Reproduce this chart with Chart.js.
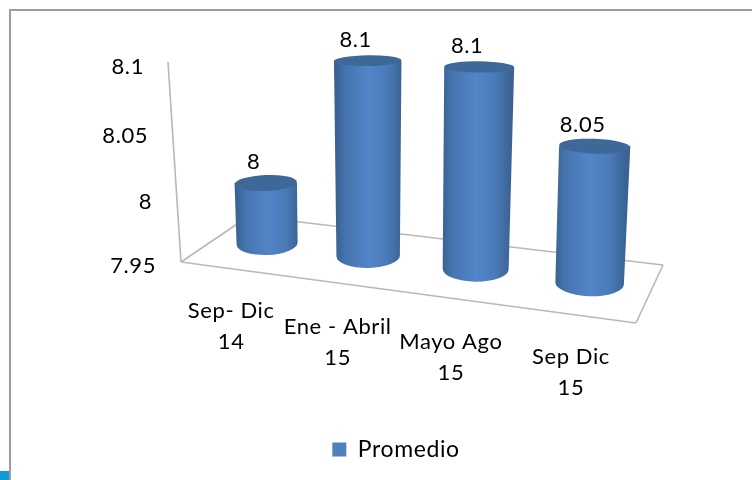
<!DOCTYPE html>
<html>
<head>
<meta charset="utf-8">
<script src="https://cdn.jsdelivr.net/npm/chart.js@4/dist/chart.umd.min.js"></script>
<style>
    html, body { margin: 0; background: #fff; }
    body { width: 752px; height: 480px; overflow: hidden; position: relative; }
    #frame { position: absolute; left: 9px; top: 9px; right: 0; bottom: 0; border-left: 2px solid #9c9c9c; border-top: 2px solid #9c9c9c; }
    #corner { position: absolute; left: 0; top: 471px; width: 9px; height: 9px; background: #0d9ddb; }
    #chart { position: absolute; left: 0; top: 0; }
</style>
</head>
<body>
<div id="frame"></div>
<div id="corner"></div>
<canvas id="chart" width="752" height="480"></canvas>
<script>
var categories = [["Sep- Dic", "14"], ["Ene - Abril", "15"], ["Mayo Ago", "15"], ["Sep Dic", "15"]];
var promedio = [8, 8.1, 8.1, 8.05];
var axisMin = 7.95;
var axisMax = 8.1;
var axisStep = 0.05;

var FONT = '22px Lato';

// floor corners of the 3d box, screen pixels
var floor = {
    frontLeft: [181, 262], frontRight: [636, 323],
    backLeft: [249, 216], backRight: [663, 265]
};

function line(ctx, a, b) {
    ctx.beginPath();
    ctx.moveTo(a[0], a[1]);
    ctx.lineTo(b[0], b[1]);
    ctx.stroke();
}

// chart area fractions (from the scales) -> position on the 3d box
function fractions(chart, px, py) {
    var area = chart.chartArea;
    var u = (px - area.left) / (area.right - area.left);
    var h = (area.bottom - py) / (area.bottom - area.top);
    return {
        u: u - 0.12 * u * (1 - u),
        h: h - 0.06 * h * (1 - h)
    };
}

// where a bar stands and where its top ends up
function cylinderPos(f) {
    var baseX = 219 + 430 * f.u;
    var baseY = 237.5 + 53 * f.u;
    return {
        baseX: baseX,
        baseY: baseY,
        topX: baseX + (-6 + 16 * f.u) * f.h,
        topY: baseY - (185.5 + 28 * f.u) * f.h
    };
}

function text(ctx, str, x, y, align) {
    ctx.textAlign = align;
    ctx.textBaseline = 'middle';
    ctx.fillText(str, x, y);
}

class CylinderController extends Chart.BarController {
    draw() {
        var chart = this.chart;
        var ctx = chart.ctx;
        var bars = this.getMeta().data;

        bars.forEach(function (bar) {
            var f = fractions(chart, bar.x, bar.y);
            var p = cylinderPos(f);
            var baseW = (60 + 10 * f.u) / 2;
            var topW = baseW + 2 * f.h;
            var tilt = -0.05 + 0.1 * f.u;

            var grad = ctx.createLinearGradient(p.baseX - baseW - 2, 0, p.baseX + baseW + 2, 0);
            grad.addColorStop(0, '#38608f');
            grad.addColorStop(0.16, '#4573ad');
            grad.addColorStop(0.5, '#5285c9');
            grad.addColorStop(0.78, '#4b7ab7');
            grad.addColorStop(1, '#3a6394');

            ctx.save();
            ctx.fillStyle = grad;
            ctx.beginPath();
            ctx.moveTo(p.topX - topW, p.topY);
            ctx.lineTo(p.baseX - baseW, p.baseY);
            ctx.ellipse(p.baseX, p.baseY, baseW, baseW * 0.38, tilt, Math.PI, 0, true);
            ctx.lineTo(p.topX + topW, p.topY);
            ctx.closePath();
            ctx.fill();

            ctx.fillStyle = '#3e6897';
            ctx.beginPath();
            ctx.ellipse(p.topX, p.topY, topW, topW * (0.3 - 0.14 * f.h), tilt, 0, Math.PI * 2);
            ctx.fill();
            ctx.restore();
        });
    }
}
CylinderController.id = 'cylinder';
CylinderController.defaults = Chart.BarController.defaults;
Chart.register(CylinderController);

var box3d = {
    id: 'box3d',
    beforeLayout: function (chart) {
        // the reference text runs wide, legend has to measure with it too
        chart.ctx.letterSpacing = '0.6px';
    },
    beforeDatasetsDraw: function (chart) {
        var ctx = chart.ctx;
        var x = chart.scales.x;
        var y = chart.scales.y;

        ctx.save();
        ctx.strokeStyle = '#b8b8b8';
        ctx.lineWidth = 1.6;
        line(ctx, floor.frontLeft, floor.frontRight);
        line(ctx, floor.frontRight, floor.backRight);
        line(ctx, floor.backRight, floor.backLeft);
        line(ctx, floor.backLeft, floor.frontLeft);
        line(ctx, floor.frontLeft, [168, 62]);

        ctx.fillStyle = '#000';
        ctx.font = FONT;
        y.ticks.forEach(function (tick, i) {
            var f = fractions(chart, x.left, y.getPixelForTick(i));
            text(ctx, tick.label, 156 - 12 * f.h, 266 - 199 * f.h, 'right');
        });
        x.ticks.forEach(function (tick, i) {
            var f = fractions(chart, x.getPixelForTick(i), y.bottom);
            var labelY = 303.5 + 60 * f.u + 12 * f.u * (1 - f.u);
            [].concat(tick.label).forEach(function (row, r) {
                text(ctx, row, 180.5 + 453 * f.u, labelY + r * 31, 'center');
            });
        });
        ctx.restore();
    },
    afterDatasetsDraw: function (chart) {
        var ctx = chart.ctx;
        var meta = chart.getDatasetMeta(0);

        ctx.save();
        ctx.fillStyle = '#000';
        ctx.font = FONT;
        meta.data.forEach(function (bar, i) {
            var p = cylinderPos(fractions(chart, bar.x, bar.y));
            text(ctx, String(promedio[i]), p.topX - 12, p.topY - 21, 'center');
        });
        ctx.restore();
    }
};

new Chart(document.getElementById('chart'), {
    type: 'cylinder',
    data: {
        labels: categories,
        datasets: [{
            label: 'Promedio',
            data: promedio,
            backgroundColor: '#4f81bd'
        }]
    },
    options: {
        responsive: false,
        animation: false,
        layout: { padding: { left: 40, right: 0, top: 40, bottom: 9 } },
        scales: {
            x: {
                type: 'category',
                offset: true,
                grid: { display: false },
                border: { display: false },
                ticks: { display: false }
            },
            y: {
                type: 'linear',
                min: axisMin,
                max: axisMax,
                grid: { display: false },
                border: { display: false },
                ticks: {
                    display: false,
                    stepSize: axisStep,
                    callback: function (v) { return String(+v.toFixed(2)); }
                }
            }
        },
        plugins: {
            tooltip: { enabled: false },
            legend: {
                position: 'bottom',
                labels: {
                    boxWidth: 14,
                    boxHeight: 14,
                    padding: 8,
                    color: '#000',
                    font: { family: 'Lato', size: 23 }
                }
            }
        }
    },
    plugins: [box3d]
});
</script>
</body>
</html>
